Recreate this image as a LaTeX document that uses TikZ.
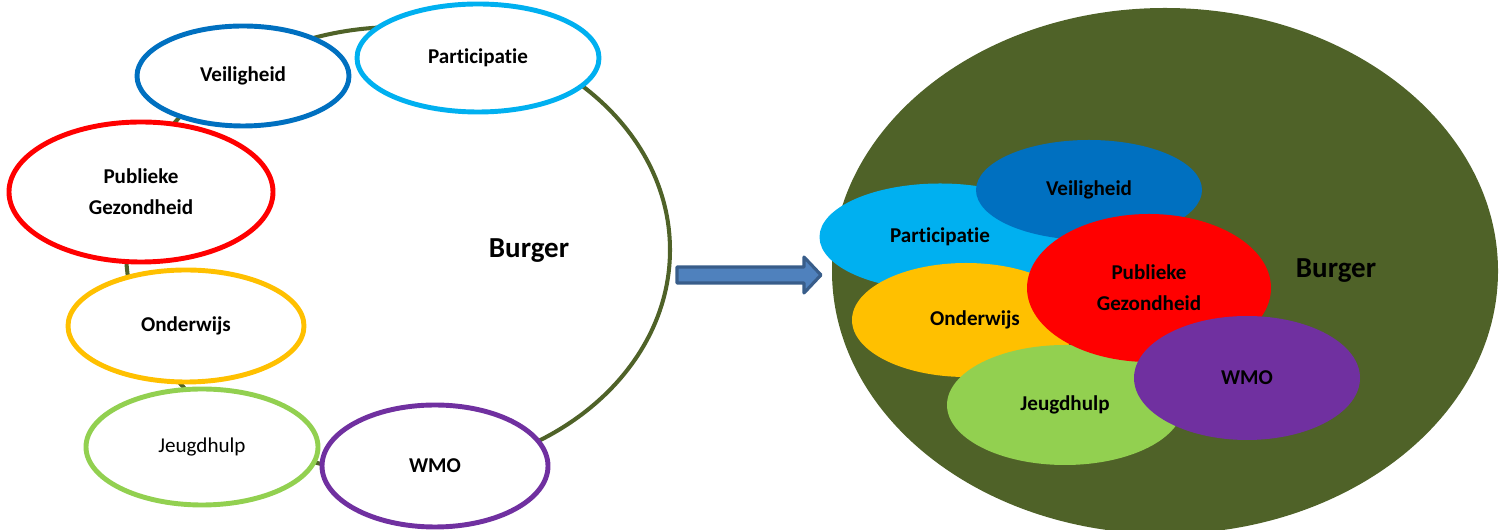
\documentclass[tikz,border=0pt]{standalone}
\usepackage{fontspec}
\setmainfont{Carlito}[Ligatures=NoCommon]
\usepackage{tikz}
\usetikzlibrary{shapes.geometric}
\definecolor{olijf}{HTML}{4F6228}
\definecolor{cVeil}{HTML}{0070C0}
\definecolor{cPart}{HTML}{00B0F0}
\definecolor{cPubl}{HTML}{FF0000}
\definecolor{cOnde}{HTML}{FFC000}
\definecolor{cJeug}{HTML}{92D050}
\definecolor{cWmo}{HTML}{7030A0}
\definecolor{pijlvul}{HTML}{4F81BD}
\definecolor{pijlrand}{HTML}{385D8A}
\tikzstyle{ring}=[draw,ellipse,fill=white,line width=2.8pt,inner sep=0pt,align=center,font=\fontsize{12}{17.6}\selectfont\bfseries]
\tikzstyle{blob}=[ellipse,inner sep=0pt,align=center,font=\fontsize{12}{17.6}\selectfont\bfseries]
\tikzstyle{lbl}=[inner sep=0pt,font=\fontsize{16.5}{20}\selectfont\bfseries]
\tikzstyle{pijl}=[fill=pijlvul,draw=pijlrand,line width=1.8pt,line join=round]

\begin{document}
\begin{tikzpicture}
    \useasboundingbox (0,0) rectangle (30.02,10.6);
    % links: losse domeinen rond de burger
    \node [ellipse, draw=olijf, line width=2.3pt, minimum width=10.88cm, minimum height=8.92cm] (BL) at (7.96,5.6) {};
    \node [lbl]  (burgerL)  at (10.58,5.58) {Burger};
    \node [ring, draw=cVeil, minimum width=4.24cm, minimum height=2.0cm]  (VL) at (4.86,9.08) {Veiligheid};
    \node [ring, draw=cPart, minimum width=4.84cm, minimum height=2.16cm] (PL) at (9.56,9.44) {Participatie};
    \node [ring, draw=cPubl, minimum width=5.28cm, minimum height=2.8cm]  (GL) at (2.82,6.76) {Publieke\\Gezondheid};
    \node [ring, draw=cOnde, minimum width=4.72cm, minimum height=2.24cm] (OL) at (3.72,4.08) {Onderwijs};
    \node [ring, draw=cJeug, minimum width=4.64cm, minimum height=2.32cm] (JL) at (4.04,1.66) {\mdseries Jeugdhulp};
    \node [ring, draw=cWmo,  minimum width=4.52cm, minimum height=2.44cm] (WL) at (8.7,1.28)  {WMO};

    \draw [pijl] (13.54,5.26) -- (16.08,5.26) -- (16.08,5.46) -- (16.42,5.1)
                 -- (16.08,4.74) -- (16.08,4.94) -- (13.54,4.94) -- cycle;

    % rechts: samenhang binnen de burger
    \node [ellipse, fill=olijf, minimum width=13.32cm, minimum height=10.52cm] (BR) at (23.3,5.18) {};
    \node [blob, fill=cPart, minimum width=4.82cm, minimum height=2.14cm] (PR) at (18.8,5.86)  {Participatie};
    \node [blob, fill=cVeil, minimum width=4.52cm, minimum height=2.0cm]  (VR) at (21.78,6.8)  {Veiligheid};
    \node [blob, fill=cOnde, minimum width=4.56cm, minimum height=2.28cm] (OR) at (19.32,4.2)  {\hspace{0.36cm}Onderwijs};
    \node [blob, fill=cJeug, minimum width=4.72cm, minimum height=2.4cm]  (JR) at (21.3,2.5)   {Jeugdhulp};
    \node [blob, fill=cPubl, minimum width=4.88cm, minimum height=2.96cm] (GR) at (22.98,4.84) {Publieke\\Gezondheid};
    \node [blob, fill=cWmo,  minimum width=4.52cm, minimum height=2.48cm] (WR) at (24.94,3.04) {WMO};
    \node [lbl]  (burgerR)  at (26.72,5.18) {Burger};
\end{tikzpicture}
\end{document}
